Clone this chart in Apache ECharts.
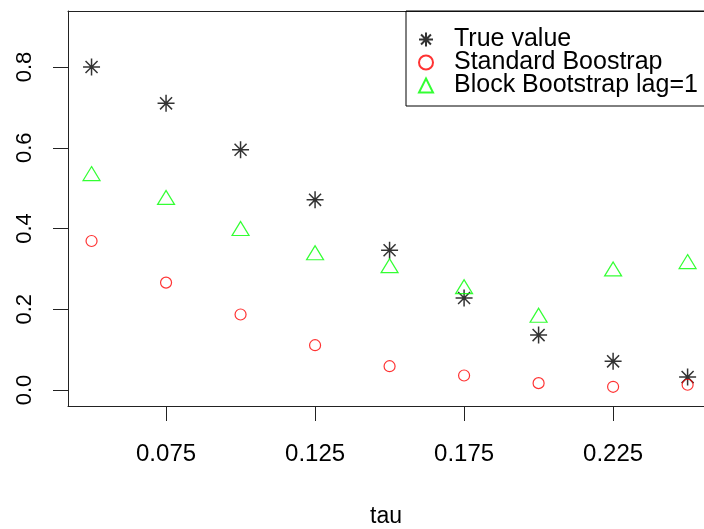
<!DOCTYPE html>
<html>
<head>
<meta charset="utf-8">
<script src="https://cdn.jsdelivr.net/npm/echarts@6/dist/echarts.min.js"></script>
<style>
  html, body { margin: 0; padding: 0; background: #fff; }
  #chart { width: 704px; height: 529px; }
</style>
</head>
<body>
<div id="chart"></div>
<script>
// tau values and the three series
var tau = [0.05, 0.075, 0.1, 0.125, 0.15, 0.175, 0.2, 0.225, 0.25];
var trueValue = [0.800, 0.710, 0.595, 0.471, 0.346, 0.228, 0.136, 0.071, 0.032];
var standardBoot = [0.369, 0.266, 0.187, 0.111, 0.059, 0.036, 0.017, 0.008, 0.013];
var blockBoot = [0.536, 0.477, 0.400, 0.340, 0.308, 0.256, 0.185, 0.300, 0.318];
var xTicks = [0.075, 0.125, 0.175, 0.225];
var yTicks = [0, 0.2, 0.4, 0.6, 0.8];

function pairs(ys) {
    var out = [];
    for (var i = 0; i < tau.length; i++) out.push([tau[i], ys[i]]);
    return out;
}

var font = '"Liberation Sans", Arial, sans-serif';
var asterisk = 'path://M0,-10L0,10M-10,0L10,0M-7.07,-7.07L7.07,7.07M-7.07,7.07L7.07,-7.07';
var xMin = 0.0421, xMax = 0.2555; // plot runs past the right edge of the picture

var chart = echarts.init(document.getElementById('chart'));
var option = {
    animation: false,
    backgroundColor: '#fff',
    grid: {
        left: 68,
        top: 11,
        width: 636,
        height: 395,
        outerBoundsMode: 'none'
    },
    legend: {
        orient: 'vertical',
        left: 406,
        top: 11,
        padding: [16, 300, 8, 12],
        itemGap: -2,
        itemWidth: 14,
        itemHeight: 14,
        borderColor: '#000',
        borderWidth: 1,
        textStyle: {
            fontFamily: font,
            fontSize: 25,
            color: '#000',
            lineHeight: 23,
            padding: [0, 0, 0, 16]
        },
        data: ['True value', 'Standard Boostrap', 'Block Bootstrap lag=1']
    },
    xAxis: [
        {
            type: 'value',
            min: xMin,
            max: xMax,
            name: 'tau',
            nameLocation: 'middle',
            nameGap: 99,
            nameTextStyle: { fontFamily: font, fontSize: 23, color: '#000' },
            splitLine: { show: false },
            axisLine: { show: true, onZero: false, lineStyle: { color: '#222', width: 1 } },
            axisTick: {
                show: true,
                length: 15,
                customValues: xTicks,
                lineStyle: { color: '#222', width: 1 }
            },
            axisLabel: {
                margin: 36,
                customValues: xTicks,
                fontFamily: font,
                fontSize: 24,
                color: '#000',
                formatter: function (v) { return v.toFixed(3); }
            }
        },
        {
            // top edge of the box only
            type: 'value',
            position: 'top',
            min: xMin,
            max: xMax,
            splitLine: { show: false },
            axisLine: { show: true, onZero: false, lineStyle: { color: '#222', width: 1 } },
            axisTick: { show: false },
            axisLabel: { show: false }
        }
    ],
    yAxis: {
        type: 'value',
        min: -0.0396,
        max: 0.9387,
        splitLine: { show: false },
        axisLine: { show: true, onZero: false, lineStyle: { color: '#222', width: 1 } },
        axisTick: {
            show: true,
            length: 15,
            customValues: yTicks,
            lineStyle: { color: '#222', width: 1 }
        },
        axisLabel: {
            margin: 32,
            rotate: 90,
            customValues: yTicks,
            fontFamily: font,
            fontSize: 22,
            color: '#000',
            formatter: function (v) { return v.toFixed(1); }
        }
    },
    series: [
        {
            name: 'True value',
            type: 'scatter',
            data: pairs(trueValue),
            symbol: asterisk,
            symbolSize: 17,
            itemStyle: { color: 'rgba(0,0,0,0)', borderColor: '#000', borderWidth: 1.5 }
        },
        {
            name: 'Standard Boostrap',
            type: 'scatter',
            data: pairs(standardBoot),
            symbol: 'circle',
            symbolSize: 11,
            itemStyle: { color: 'rgba(0,0,0,0)', borderColor: '#ff0000', borderWidth: 1.2 }
        },
        {
            name: 'Block Bootstrap lag=1',
            type: 'scatter',
            data: pairs(blockBoot),
            symbol: 'triangle',
            symbolSize: [17, 14],
            itemStyle: { color: 'rgba(0,0,0,0)', borderColor: '#00ff00', borderWidth: 1.2 }
        }
    ]
};
chart.setOption(option);
</script>
</body>
</html>
